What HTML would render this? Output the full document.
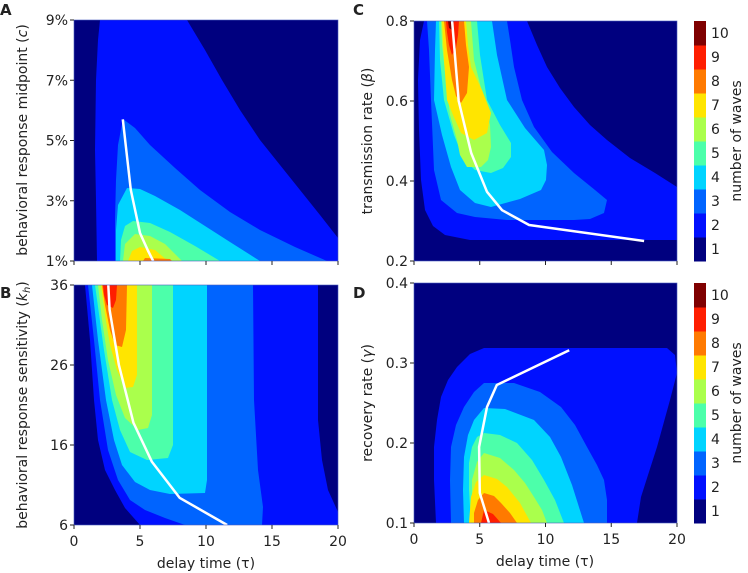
<!DOCTYPE html>
<html><head><meta charset="utf-8"><style>
body{margin:0;background:#fff;}
svg{display:block;font-family:"DejaVu Sans","Liberation Sans",sans-serif;}
text{fill:#222;}
</style></head><body>
<svg id="fig" width="748" height="573" viewBox="0 0 748 573">
<g>
<rect x="74" y="20" width="264" height="241" fill="#00007f"/>
<polygon fill="#0010ff" points="100,20 187,20 205,50 222,80 240,110 260,140 280,165 300,190 320,215 338,238 338,261 97,261 96,200 95,150 96,80 98,40"/>
<polygon fill="#0064ff" points="123,119 135,128 150,145 175,168 200,190 230,212 260,230 295,247 327,261 115,261 115,220 116,180 118,145"/>
<polygon fill="#00d4ff" points="127,188 140,189 155,196 180,210 205,226 230,242 260,261 116,261 116,230 118,205"/>
<polygon fill="#4cffaa" points="133,221 150,223 170,232 195,246 220,261 120,261 121,240 125,226"/>
<polygon fill="#aaff4c" points="135,234 150,236 165,244 182,261 123,261 125,244"/>
<polygon fill="#ffe500" points="140,247 155,250 168,261 128,261 132,251"/>
<polygon fill="#ff7a00" points="145,258 170,259 172,261 143,261"/>
</g>
<g>
<rect x="74" y="285" width="264" height="240" fill="#00007f"/>
<polygon fill="#0010ff" points="85,285 318,285 318,420 322,460 328,490 338,512 338,525 140,525 125,508 115,490 105,470 98,440 94,400 90,340"/>
<polygon fill="#0064ff" points="88,285 253,285 254,400 258,470 263,507 262,525 185,525 165,518 145,510 130,500 118,480 108,450 100,400 94,340"/>
<polygon fill="#00d4ff" points="92,285 207,285 207,480 205,493 170,494 150,490 135,482 122,465 114,440 106,400 98,340"/>
<polygon fill="#4cffaa" points="95,285 173,285 173,445 168,458 147,460 130,452 120,430 112,400 104,350"/>
<polygon fill="#aaff4c" points="98,285 152,285 152,415 148,428 138,430 125,418 116,395 108,360 102,320"/>
<polygon fill="#ffe500" points="101,285 137,285 137,375 133,387 125,388 117,370 110,345 105,315"/>
<polygon fill="#ff7a00" points="102,285 127,285 126,330 122,347 115,345 110,330 105,305"/>
<polygon fill="#ff1e00" points="103,285 117,285 116,300 113,308 107,305 104,295"/>
</g>
<g>
<rect x="414" y="21" width="263" height="240" fill="#00007f"/>
<polygon fill="#0010ff" points="424,21 527,21 537,45 547,67 560,88 574,107 590,125 607,140 630,158 655,173 677,187 677,240 470,240 445,235 433,226 425,210 421,180 419,130 418,80 420,40"/>
<polygon fill="#0064ff" points="427,21 507,21 510,40 514,67 522,100 534,127 552,152 574,173 595,190 607,200 604,213 590,219 574,220 507,220 475,217 457,213 441,200 434,170 431,100 429,50"/>
<polygon fill="#00d4ff" points="436,21 492,21 497,55 507,100 525,128 544,150 547,165 546,180 541,190 520,199 491,207 475,203 460,190 451,167 442,135 434,100 435,50"/>
<polygon fill="#4cffaa" points="439,21 477,21 480,55 487,100 500,125 511,143 511,157 503,168 491,173 475,170 464,160 454,135 444,100 440,60"/>
<polygon fill="#aaff4c" points="441,21 471,21 474,60 484,100 490,125 491,147 488,160 481,167 467,167 460,155 457,140 450,115 446,80 442,45"/>
<polygon fill="#ffe500" points="442,21 466,21 468,45 471,67 482,90 491,113 487,133 474,140 461,133 453,115 447,100 444,60"/>
<polygon fill="#ff7a00" points="444,21 464,21 466,45 469,67 467,93 461,103 456,96 452,80 447,50"/>
<polygon fill="#ff1e00" points="446,21 459,21 458,35 456,48 452,55 449,45 447,32"/>
<polygon fill="#7f0000" points="448,21 454,21 452,30 449,28"/>
</g>
<g>
<rect x="414" y="283" width="263" height="240" fill="#00007f"/>
<polygon fill="#0010ff" points="484,348 667,348 675,355 677,373 670,400 657,447 648,475 641,497 637,523 436,523 434,480 434,447 437,420 441,397 448,380 457,367 470,354"/>
<polygon fill="#0064ff" points="484,383 514,383 540,392 561,407 575,425 587,447 597,465 604,480 607,500 607,523 451,523 450,480 451,447 456,425 464,407 474,392"/>
<polygon fill="#00d4ff" points="484,408 505,409 534,420 550,437 561,457 572,485 584,523 464,523 463,490 464,457 468,435 474,420"/>
<polygon fill="#4cffaa" points="484,433 500,435 517,443 532,460 544,480 555,500 564,523 471,523 469,490 469,463 472,447 477,437"/>
<polygon fill="#aaff4c" points="484,453 500,458 514,470 525,483 534,497 542,510 547,523 472,523 472,500 472,480 477,462"/>
<polygon fill="#ffe500" points="484,475 497,479 507,487 520,503 531,523 469,523 470,510 471,497 476,482"/>
<polygon fill="#ff7a00" points="484,493 494,496 501,503 510,513 517,523 474,523 474,513 478,500"/>
<polygon fill="#ff1e00" points="484,510 493,514 501,523 481,523"/>
</g>
<g id="lines"></g>
<g id="axes"></g>
<g id="cbars"></g>
<text x="0" y="15" font-size="15" font-weight="bold">A</text>
<text x="0" y="298" font-size="15" font-weight="bold">B</text>
<text x="353" y="15" font-size="15" font-weight="bold">C</text>
<text x="353" y="298" font-size="15" font-weight="bold">D</text>
<text transform="translate(27,140) rotate(-90)" text-anchor="middle" font-size="14">behavioral response midpoint (<tspan font-style="italic">c</tspan>)</text>
<text transform="translate(27,405) rotate(-90)" text-anchor="middle" font-size="14">behavioral response sensitivity (<tspan font-style="italic">k</tspan><tspan font-style="italic" font-size="10" dy="3">h</tspan><tspan dy="-3">)</tspan></text>
<text transform="translate(372,141) rotate(-90)" text-anchor="middle" font-size="14">transmission rate (<tspan font-style="italic">β</tspan>)</text>
<text transform="translate(372,403) rotate(-90)" text-anchor="middle" font-size="14">recovery rate (<tspan font-style="italic">γ</tspan>)</text>
<text x="206" y="568" text-anchor="middle" font-size="14">delay time (τ)</text>
<text x="545" y="566" text-anchor="middle" font-size="14">delay time (τ)</text>
<text transform="translate(741,141) rotate(-90)" text-anchor="middle" font-size="14">number of waves</text>
<text transform="translate(741,403) rotate(-90)" text-anchor="middle" font-size="14">number of waves</text>
</svg>
<script>
const tauA = [3.7, 4.3, 5.0, 5.6, 6.0];
const cA = [5.7, 3.36, 1.93, 1.35, 1.0];
const tauB = [2.6, 2.7, 3.4, 4.5, 5.9, 8.0, 11.6];
const khB = [36, 32.9, 26, 18.8, 13.9, 9.4, 6];
const tauC = [2.9, 3.4, 4.35, 5.55, 6.7, 8.75, 17.5];
const betaC = [0.8, 0.6, 0.47, 0.373, 0.327, 0.29, 0.25];
const tauD = [5.7, 5.0, 4.95, 5.55, 6.3, 11.8];
const gammaD = [0.1, 0.1375, 0.195, 0.245, 0.2725, 0.316];
const xTicks = [0, 5, 10, 15, 20];
const yTicksA = [1, 3, 5, 7, 9];
const yTicksB = [6, 16, 26, 36];
const yTicksC = [0.2, 0.4, 0.6, 0.8];
const yTicksD = [0.1, 0.2, 0.3, 0.4];
const levels = [1,2,3,4,5,6,7,8,9,10];
const levelColors = ["#00007f","#0010ff","#0064ff","#00d4ff","#4cffaa","#aaff4c","#ffe500","#ff7a00","#ff1e00","#7f0000"];

const NS = "http://www.w3.org/2000/svg";
function mk(tag, attrs, parent){const e=document.createElementNS(NS,tag);for(const k in attrs)e.setAttribute(k,attrs[k]);parent.appendChild(e);return e;}
function lin(d0,d1,r0,r1){return v=>r0+(v-d0)/(d1-d0)*(r1-r0);}
const panels = [
 {id:"a",x0:74,x1:338,y0:261,y1:20,ymin:1,ymax:9,xs:tauA,ys:cA,yt:yTicksA,fmt:v=>v+"%",xl:false},
 {id:"b",x0:74,x1:338,y0:525,y1:285,ymin:6,ymax:36,xs:tauB,ys:khB,yt:yTicksB,fmt:v=>String(v),xl:true},
 {id:"c",x0:414,x1:677,y0:261,y1:21,ymin:0.2,ymax:0.8,xs:tauC,ys:betaC,yt:yTicksC,fmt:v=>v.toFixed(1),xl:false},
 {id:"d",x0:414,x1:677,y0:523,y1:283,ymin:0.1,ymax:0.4,xs:tauD,ys:gammaD,yt:yTicksD,fmt:v=>v.toFixed(1),xl:true}
];
const lines=document.getElementById("lines"), axes=document.getElementById("axes"), cb=document.getElementById("cbars");
panels.forEach(p=>{
 const sx=lin(0,20,p.x0,p.x1), sy=lin(p.ymin,p.ymax,p.y0,p.y1);
 const pts=p.xs.map((t,i)=>sx(t).toFixed(1)+","+sy(p.ys[i]).toFixed(1)).join(" ");
 const pl=mk("polyline",{points:pts,fill:"none",stroke:"#fff","stroke-width":2.5,"stroke-linejoin":"round"},lines);
 
 
 const fr=mk("rect",{x:p.x0,y:p.y1,width:p.x1-p.x0,height:p.y0-p.y1,fill:"none",stroke:"#4a5cc0","stroke-width":0.6},axes);
 
 
 xTicks.forEach(t=>{
  const x=sx(t);
  const tk=mk("line",{x1:x,x2:x,y1:p.y0,y2:p.y0+4,stroke:"#222"},axes);
  
  
  if(p.xl){const tx=mk("text",{x:x,y:p.y0+21,"text-anchor":"middle","font-size":14},axes);tx.textContent=t;
   
   }
 });
 p.yt.forEach(t=>{
  const y=sy(t);
  const tk=mk("line",{x1:p.x0-4,x2:p.x0,y1:y,y2:y,stroke:"#222"},axes);
  
  
  const tx=mk("text",{x:p.x0-6,y:y+5,"text-anchor":"end","font-size":14},axes);tx.textContent=p.fmt(t);
  
  
 });
});
[{id:"c",y0:261,y1:21},{id:"d",y0:523,y1:283}].forEach(c=>{
 const h=(c.y0-c.y1)/levels.length;
 levels.forEach((lv,i)=>{
  const y=c.y0-(i+1)*h;
  const r=mk("rect",{x:694,y:y,width:12,height:h+0.5,fill:levelColors[i]},cb);
  
  
  const t=mk("text",{x:711,y:y+h/2+5,"font-size":14},cb);t.textContent=lv;
  
  
 });
});
</script>
</body></html>
